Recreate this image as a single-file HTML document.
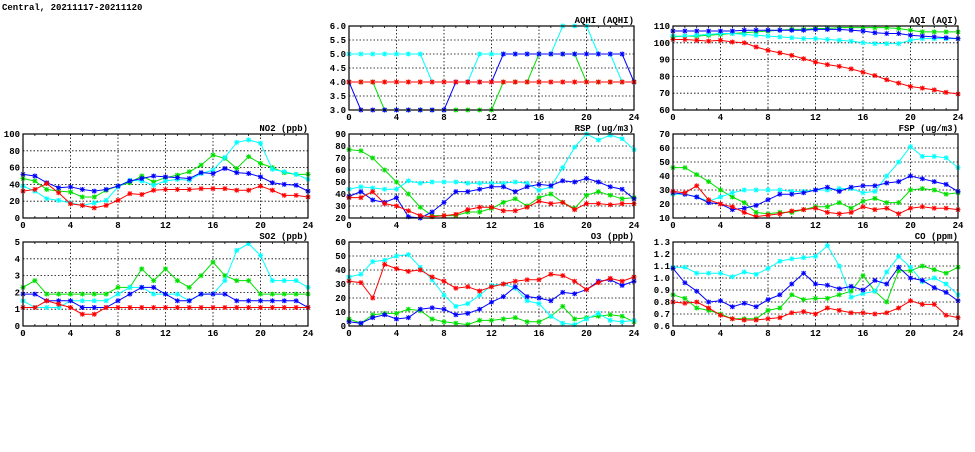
<!DOCTYPE html>
<html><head><meta charset="utf-8"><style>
body{margin:0;background:#fff;width:975px;height:447px;overflow:hidden}
svg text{font-family:"Liberation Mono","DejaVu Sans Mono",monospace;font-weight:bold;font-size:9px;fill:#000}
</style></head><body>
<svg id="c" width="975" height="447" viewBox="0 0 975 447" xmlns="http://www.w3.org/2000/svg">
<text x="2" y="10" font-size="10">Central, 20211117-20211120</text>
</svg>
<script>
const hours=[0,1,2,3,4,5,6,7,8,9,10,11,12,13,14,15,16,17,18,19,20,21,22,23,24];
const xTicks=[0,4,8,12,16,20,24];
const aqhiRed=[4,4,4,4,4,4,4,4,4,4,4,4,4,4,4,4,4,4,4,4,4,4,4,4,4];
const aqhiBlue=[4,3,3,3,3,3,3,3,3,4,4,4,4,5,5,5,5,5,5,5,5,5,5,5,4];
const aqhiGreen=[4,4,4,3,3,3,3,3,3,3,3,3,3,4,4,4,5,5,5,5,4,4,4,4,4];
const aqhiCyan=[5,5,5,5,5,5,5,4,4,4,4,5,5,5,5,5,5,5,6,6,6,5,5,4,4];
const aqhiTicks=[3.0,3.5,4.0,4.5,5.0,5.5,6.0];
const aqiRed=[102,102,101.5,101,101.5,100.5,100,97.5,95.5,94,92.5,90.5,88.5,87,86,84.5,82.5,80.5,78,76,74,73,72,70.5,69.5];
const aqiBlue=[107,107,107,107,107,107,107.5,107.5,107.5,107.5,107.5,107.5,108,108,108,107.5,107,106,105.5,105.5,104.5,104,103.5,103,102.5];
const aqiGreen=[103.5,104,104,104.5,105,105.5,106,106.5,107,107.5,108,108,108.5,108.5,109,109,109,109,109,108.5,107.5,106.5,106.5,106.5,106.5];
const aqiCyan=[104,104,104.5,105,105.5,105.5,105,104.5,104,103.5,103,102.5,102.5,102,101.5,101,100,99.5,99.5,99.5,101.5,102.5,102.5,102.5,102.5];
const aqiTicks=[60,70,80,90,100,110];
const no2Red=[32,34,41,30,17,15,12,15,21,29,28,33,34,34,34,35,35,35,33,33,38,33,27,27,25];
const no2Blue=[52,50,42,36,37,34,32,34,38,44,47,50,49,48,47,54,53,59,54,53,49,42,40,39,32];
const no2Green=[47,44,34,32,31,25,25,33,38,42,50,43,48,51,55,63,75,71,59,73,65,60,54,52,52];
const no2Cyan=[38,32,23,21,18,15,18,21,37,45,44,39,44,46,45,53,57,72,90,93,89,58,55,52,46];
const no2Ticks=[0,20,40,60,80,100];
const rspRed=[37,37,42,32,30,26,22,21,22,23,27,29,29,26,26,29,34,32,33,27,32,32,31,32,32];
const rspBlue=[38,42,35,33,37,21,20,25,33,42,42,44,46,46,42,46,48,47,51,50,53,50,46,44,36];
const rspGreen=[77,76,70,60,50,40,29,22,22,22,25,25,28,33,36,30,37,40,33,28,39,42,39,36,37];
const rspCyan=[44,46,45,44,44,51,49,50,50,50,49,49,49,49,50,49,43,46,62,79,90,85,89,86,77];
const rspTicks=[20,30,40,50,60,70,80,90];
const fspRed=[29,28,33,23,20,18,14,11,12,13,15,16,17,14,13,14,18,16,17,13,17,18,17,17,16];
const fspBlue=[28,27,25,21,20,16,17,19,23,27,27,28,30,32,29,32,33,33,35,36,40,38,36,34,29];
const fspGreen=[46,46,41,36,30,25,21,14,13,14,14,16,18,18,21,17,22,24,21,21,30,31,30,27,28];
const fspCyan=[27,27,25,22,25,28,30,30,30,30,29,29,30,30,31,31,28,29,40,50,61,54,54,53,46];
const fspTicks=[10,20,30,40,50,60,70];
const so2Red=[1.1,1.1,1.5,1.3,1.1,0.7,0.7,1.1,1.1,1.1,1.1,1.1,1.1,1.1,1.1,1.1,1.1,1.1,1.1,1.1,1.1,1.1,1.1,1.1,1.1];
const so2Blue=[1.9,1.9,1.5,1.5,1.5,1.1,1.1,1.1,1.5,1.9,2.3,2.3,1.9,1.5,1.5,1.9,1.9,1.9,1.5,1.5,1.5,1.5,1.5,1.5,1.1];
const so2Green=[2.3,2.7,1.9,1.9,1.9,1.9,1.9,1.9,2.3,2.3,3.4,2.7,3.4,2.7,2.3,3.0,3.8,3.0,2.7,2.7,1.9,1.9,1.9,1.9,1.9];
const so2Cyan=[1.5,1.1,1.1,1.1,1.5,1.5,1.5,1.5,1.9,2.3,2.3,1.9,1.9,1.9,1.5,1.9,1.9,2.7,4.5,4.9,4.2,2.7,2.7,2.7,2.3];
const so2Ticks=[0,1,2,3,4,5];
const o3Red=[32,31,20,44,41,39,40,35,32,27,28,25,28,30,32,33,33,37,36,32,26,31,34,32,35];
const o3Blue=[3,2,6,8,5,6,12,13,12,8,9,12,17,21,28,21,20,18,24,23,26,32,33,29,32];
const o3Green=[5,2,8,9,9,12,11,5,3,2,1,4,4,5,6,3,3,7,14,5,6,7,8,7,3];
const o3Cyan=[35,37,46,47,50,51,42,33,22,14,16,22,29,30,27,18,16,7,2,1,5,9,4,3,4];
const o3Ticks=[0,10,20,30,40,50,60];
const coRed=[.80,.79,.80,.75,.69,.66,.65,.65,.66,.67,.71,.72,.70,.75,.73,.71,.71,.70,.71,.75,.81,.78,.78,.69,.67];
const coBlue=[1.08,.96,.89,.80,.81,.76,.79,.76,.82,.86,.95,1.04,.95,.94,.91,.93,.90,.98,.95,1.09,1.00,.98,.92,.88,.81];
const coGreen=[.86,.83,.75,.73,.70,.66,.66,.66,.73,.75,.86,.82,.83,.83,.86,.89,1.02,.89,.80,1.06,1.06,1.10,1.07,1.04,1.09];
const coCyan=[1.09,1.09,1.04,1.04,1.04,1.01,1.05,1.03,1.08,1.14,1.16,1.17,1.18,1.27,1.10,.84,.87,.89,1.05,1.18,1.09,.97,1.00,.95,.86];
const coTicks=[0.6,0.7,0.8,0.9,1.0,1.1,1.2,1.3];

const svg=document.getElementById('c');
const NS='http://www.w3.org/2000/svg';
function mk(tag,attrs,parent){const e=document.createElementNS(NS,tag);for(const k in attrs)e.setAttribute(k,attrs[k]);(parent||svg).appendChild(e);return e;}
const W=285,H=84;
function panel(id,title,x0,y0,ticks,dec,series){
  const g=mk('g',{});
  
  
  const ymin=ticks[0],ymax=ticks[ticks.length-1];
  const sx=v=>x0+(v-0)/24*W;
  const sy=v=>y0+H-(v-ymin)/(ymax-ymin)*H;
  ticks.forEach((t,i)=>{
    const y=sy(t);
    if(i>0&&i<ticks.length-1){const l=mk('line',{x1:x0,x2:x0+W,y1:y,y2:y,stroke:'#000','stroke-width':0.8,'stroke-dasharray':'1.5,2'},g);
    
    }
    const tx=mk('text',{x:x0-3,y:y+3,'text-anchor':'end'},g);
    
    
    tx.textContent=t.toFixed(dec);
  });
  xTicks.forEach((t,i)=>{
    const x=sx(t);
    if(i>0&&i<xTicks.length-1){const l=mk('line',{x1:x,x2:x,y1:y0,y2:y0+H,stroke:'#000','stroke-width':0.8,'stroke-dasharray':'1.5,2'},g);
    
    }
    const tx=mk('text',{x:x,y:y0+H+10,'text-anchor':'middle'},g);
    
    
    tx.textContent=t;
  });
  hours.forEach(h=>{const x=sx(h);mk('line',{x1:x,x2:x,y1:y0+H,y2:y0+H-2,stroke:'#000','stroke-width':0.8},g);mk('line',{x1:x,x2:x,y1:y0,y2:y0+2,stroke:'#000','stroke-width':0.8},g);});
  series.forEach(([name,col,vals])=>{
    const pts=vals.map((v,i)=>[sx(hours[i]),sy(v)]);
    const pl=mk('polyline',{points:pts.map(p=>p.join(',')).join(' '),fill:'none',stroke:col,'stroke-width':1},g);
    
    
    pts.forEach(([x,y])=>{
      const m=mk('path',{d:`M${x-2.5},${y}H${x+2.5}M${x},${y-2.5}V${y+2.5}M${x-2},${y-2}L${x+2},${y+2}M${x-2},${y+2}L${x+2},${y-2}`,stroke:col,'stroke-width':1},g);
      
      
    });
  });
  const fr=mk('rect',{x:x0,y:y0,width:W,height:H,fill:'none',stroke:'#000','stroke-width':1.2},g);
  
  
  const tt=mk('text',{x:x0+W,y:y0-3,'text-anchor':'end'},g);
  
  
  tt.textContent=title;
}
const C={g:'#00e000',c:'#00ffff',b:'#0000ff',r:'#ff0000'};
function S(g,c,b,r){return [['green',C.g,g],['cyan',C.c,c],['blue',C.b,b],['red',C.r,r]];}
panel('aqhi','AQHI (AQHI)',349,26,aqhiTicks,1,[['orange','#c08000',aqhiRed]].concat(S(aqhiGreen,aqhiCyan,aqhiBlue,aqhiRed)));
panel('aqi','AQI (AQI)',673,26,aqiTicks,0,S(aqiGreen,aqiCyan,aqiBlue,aqiRed));
panel('no2','NO2 (ppb)',23,134,no2Ticks,0,S(no2Green,no2Cyan,no2Blue,no2Red));
panel('rsp','RSP (ug/m3)',349,134,rspTicks,0,S(rspGreen,rspCyan,rspBlue,rspRed));
panel('fsp','FSP (ug/m3)',673,134,fspTicks,0,S(fspGreen,fspCyan,fspBlue,fspRed));
panel('so2','SO2 (ppb)',23,242,so2Ticks,0,S(so2Green,so2Cyan,so2Blue,so2Red));
panel('o3','O3 (ppb)',349,242,o3Ticks,0,S(o3Green,o3Cyan,o3Blue,o3Red));
panel('co','CO (ppm)',673,242,coTicks,1,S(coGreen,coCyan,coBlue,coRed));
</script>
</body></html>
